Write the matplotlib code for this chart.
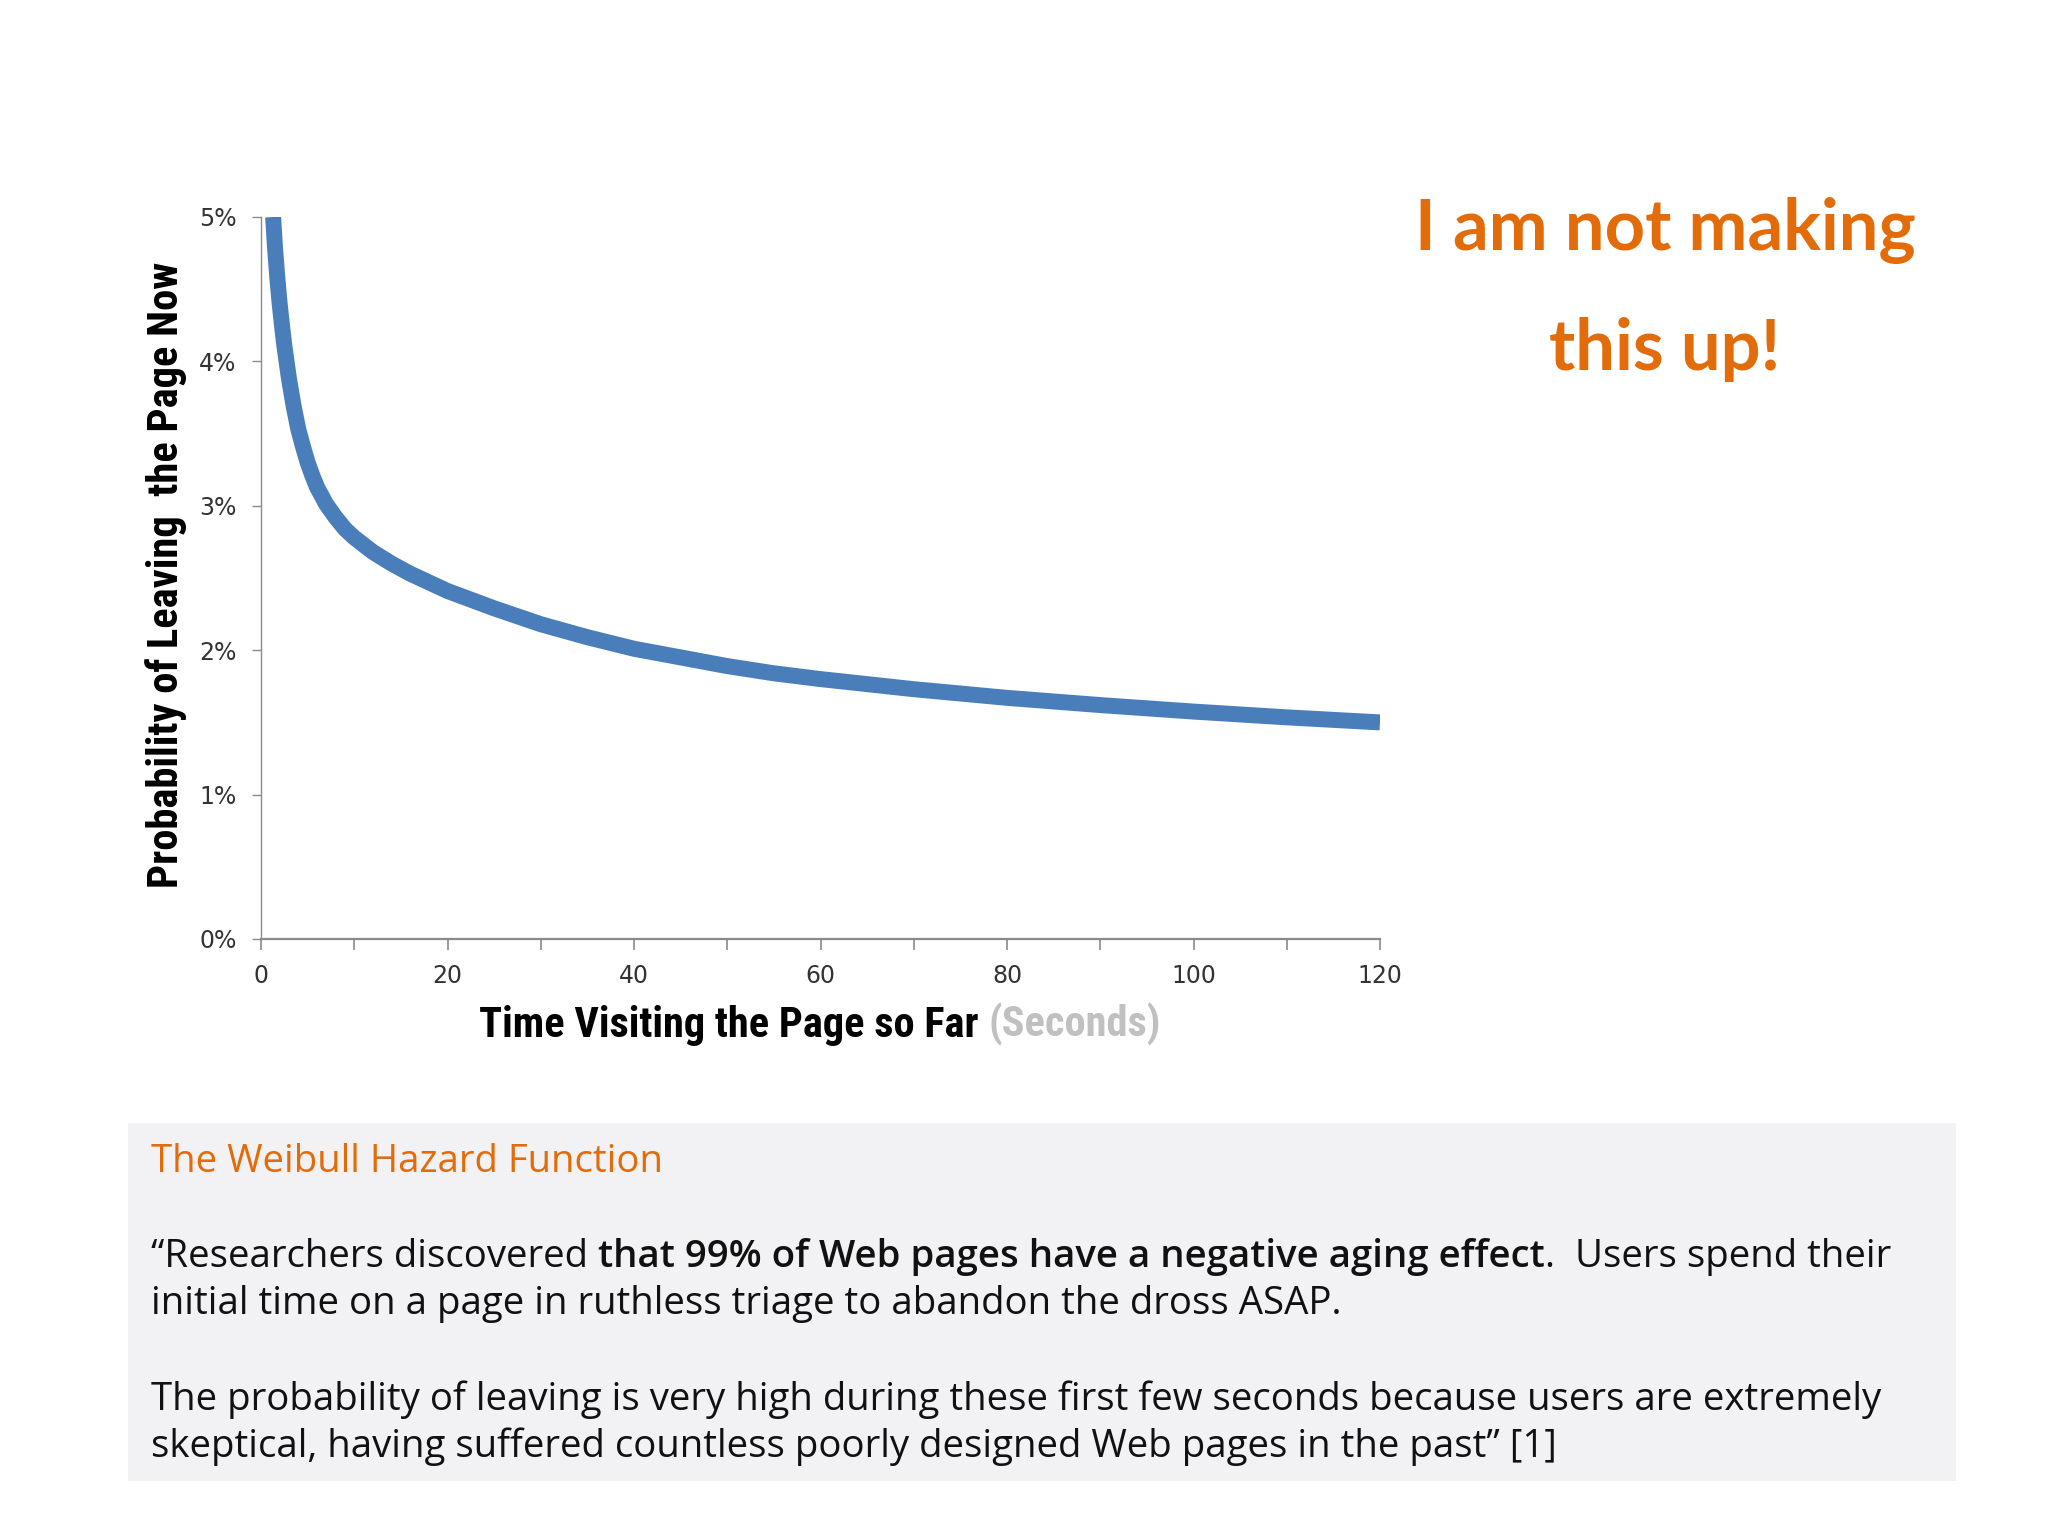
import matplotlib
matplotlib.use("Agg")
import matplotlib.pyplot as plt
from matplotlib.patches import Rectangle
from matplotlib.ticker import PercentFormatter

# values
seconds = [1.3, 1.5, 1.75, 2, 2.25, 2.5, 3, 3.5, 4, 4.5, 5, 5.5, 6, 7, 8, 9,
           10, 12, 14, 16, 18, 20, 25, 30, 35, 40, 45, 50, 55, 60, 70, 80,
           90, 100, 110, 120]
leave_pct = [5.0, 4.79, 4.58, 4.40, 4.25, 4.11, 3.88, 3.69, 3.53, 3.41, 3.30,
             3.21, 3.13, 3.01, 2.92, 2.84, 2.78, 2.68, 2.60, 2.53, 2.47, 2.41,
             2.29, 2.18, 2.09, 2.01, 1.95, 1.89, 1.84, 1.80, 1.73, 1.67, 1.62,
             1.575, 1.535, 1.50]
x_major = [0, 20, 40, 60, 80, 100, 120]
x_minor = [10, 30, 50, 70, 90, 110]
y_ticks = [0, 1, 2, 3, 4, 5]

ylabel = "Probability of Leaving  the Page Now"
xlabel_main = "Time Visiting the Page so Far"
xlabel_unit = "(Seconds)"
hand_lines = ["I am not making", "this up!"]
box_title = "The Weibull Hazard Function"
body_line1 = [("\u201cResearchers discovered ", "normal"),
              ("that 99% of Web pages have a negative aging effect", "semibold"),
              (".  Users spend their", "normal")]
body_line2 = "initial time on a page in ruthless triage to abandon the dross ASAP."
body_line3 = ("The probability of leaving is very high during these first few "
              "seconds because users are extremely")
body_line4 = ("skeptical, having suffered countless poorly designed Web pages "
              "in the past\u201d [1]")

W, H = 2048, 1536
ORANGE = "#e36c0a"
narrow = ["Liberation Sans Narrow", "Roboto Condensed", "DejaVu Sans Condensed", "DejaVu Sans"]
body_font = ["Open Sans", "DejaVu Sans"]
hand_font = ["Lato", "DejaVu Sans"]

fig = plt.figure(figsize=(W / 100, H / 100), dpi=100)
fig.patch.set_facecolor("white")
renderer = fig.canvas.get_renderer()


def fx(px):
    return px / W


def fy(py):
    return 1 - py / H


def advance(s, **kw):
    # width of s including trailing spaces (uses a bar as end marker)
    t1 = fig.text(0, 0, s + "|", **kw)
    t2 = fig.text(0, 0, "|", **kw)
    w = t1.get_window_extent(renderer).width - t2.get_window_extent(renderer).width
    t1.remove()
    t2.remove()
    return w


def fit_size(s, target, **kw):
    t = fig.text(0, 0, s, fontsize=20, **kw)
    w = t.get_window_extent(renderer).width
    t.remove()
    return 20 * target / w


def put_runs(x, y, runs, size, family, colors=None):
    for i, (s, weight) in enumerate(runs):
        c = colors[i] if colors else "#111111"
        fig.text(fx(x), fy(y), s, fontsize=size, fontweight=weight, family=family,
                 color=c, ha="left", va="baseline")
        x += advance(s, fontsize=size, fontweight=weight, family=family)


# chart
ax = fig.add_axes([fx(261), fy(939), (1380 - 261) / W, (939 - 217) / H])
ax.plot(seconds, [v / 100 for v in leave_pct], color="#4a7ebb", lw=11.5,
        solid_capstyle="butt", solid_joinstyle="round")
ax.set_xlim(0, 120)
ax.set_ylim(0, 0.05)
ax.set_xticks(x_major)
ax.set_xticks(x_minor, minor=True)
ax.set_yticks([v / 100 for v in y_ticks])
ax.yaxis.set_major_formatter(PercentFormatter(1, decimals=0))
for s in ["top", "right"]:
    ax.spines[s].set_visible(False)
ax.spines["left"].set_color("#8a8a8a")
ax.spines["left"].set_linewidth(1.0)
ax.spines["bottom"].set_color("#8a8a8a")
ax.spines["bottom"].set_linewidth(1.6)
ax.tick_params(axis="x", which="both", direction="out", length=8, width=1.2,
               color="#8a8a8a", pad=10, labelsize=17, labelcolor="#333333")
ax.tick_params(axis="y", direction="out", length=6.5, width=1.0,
               color="#8a8a8a", pad=11, labelsize=17, labelcolor="#333333")

# axis labels
ysize = fit_size(ylabel, 625, family=narrow, fontweight="bold")
fig.text(fx(178), fy(575), ylabel, rotation=90, rotation_mode="anchor",
         ha="center", va="baseline", fontsize=ysize, fontweight="bold",
         family=narrow, color="black")

xsize = fit_size(xlabel_main, 498, family=narrow, fontweight="bold")
w_main = advance(xlabel_main + " ", fontsize=xsize, fontweight="bold", family=narrow)
w_unit = advance(xlabel_unit, fontsize=xsize, fontweight="bold", family=narrow)
put_runs(820 - (w_main + w_unit) / 2, 1037,
         [(xlabel_main + " ", "bold"), (xlabel_unit, "bold")],
         xsize, narrow, colors=["black", "#c0c0c0"])

# handwritten note
hsize = fit_size(hand_lines[0], 500, family=hand_font, fontweight="bold")
fig.text(fx(1665), fy(250), hand_lines[0], ha="center", va="baseline",
         fontsize=hsize, family=hand_font, fontweight="bold", color=ORANGE)
fig.text(fx(1665), fy(370), hand_lines[1], ha="center", va="baseline",
         fontsize=hsize, family=hand_font, fontweight="bold", color=ORANGE)

# text box
fig.patches.append(Rectangle((fx(128), fy(1481)), (1956 - 128) / W, (1481 - 1123) / H,
                             transform=fig.transFigure, facecolor="#f2f1f3",
                             edgecolor="none", zorder=0))
tsize = fit_size(box_title, 512, family=body_font)
fig.text(fx(151), fy(1172), box_title, fontsize=tsize, family=body_font,
         color=ORANGE, ha="left", va="baseline")

bsize = fit_size(body_line3, 1729, family=body_font)
put_runs(151, 1267, body_line1, bsize, body_font)
for txt, base in [(body_line2, 1314), (body_line3, 1410), (body_line4, 1457)]:
    fig.text(fx(151), fy(base), txt, fontsize=bsize, family=body_font,
             color="#111111", ha="left", va="baseline")

fig.savefig("out.png", dpi=100)
